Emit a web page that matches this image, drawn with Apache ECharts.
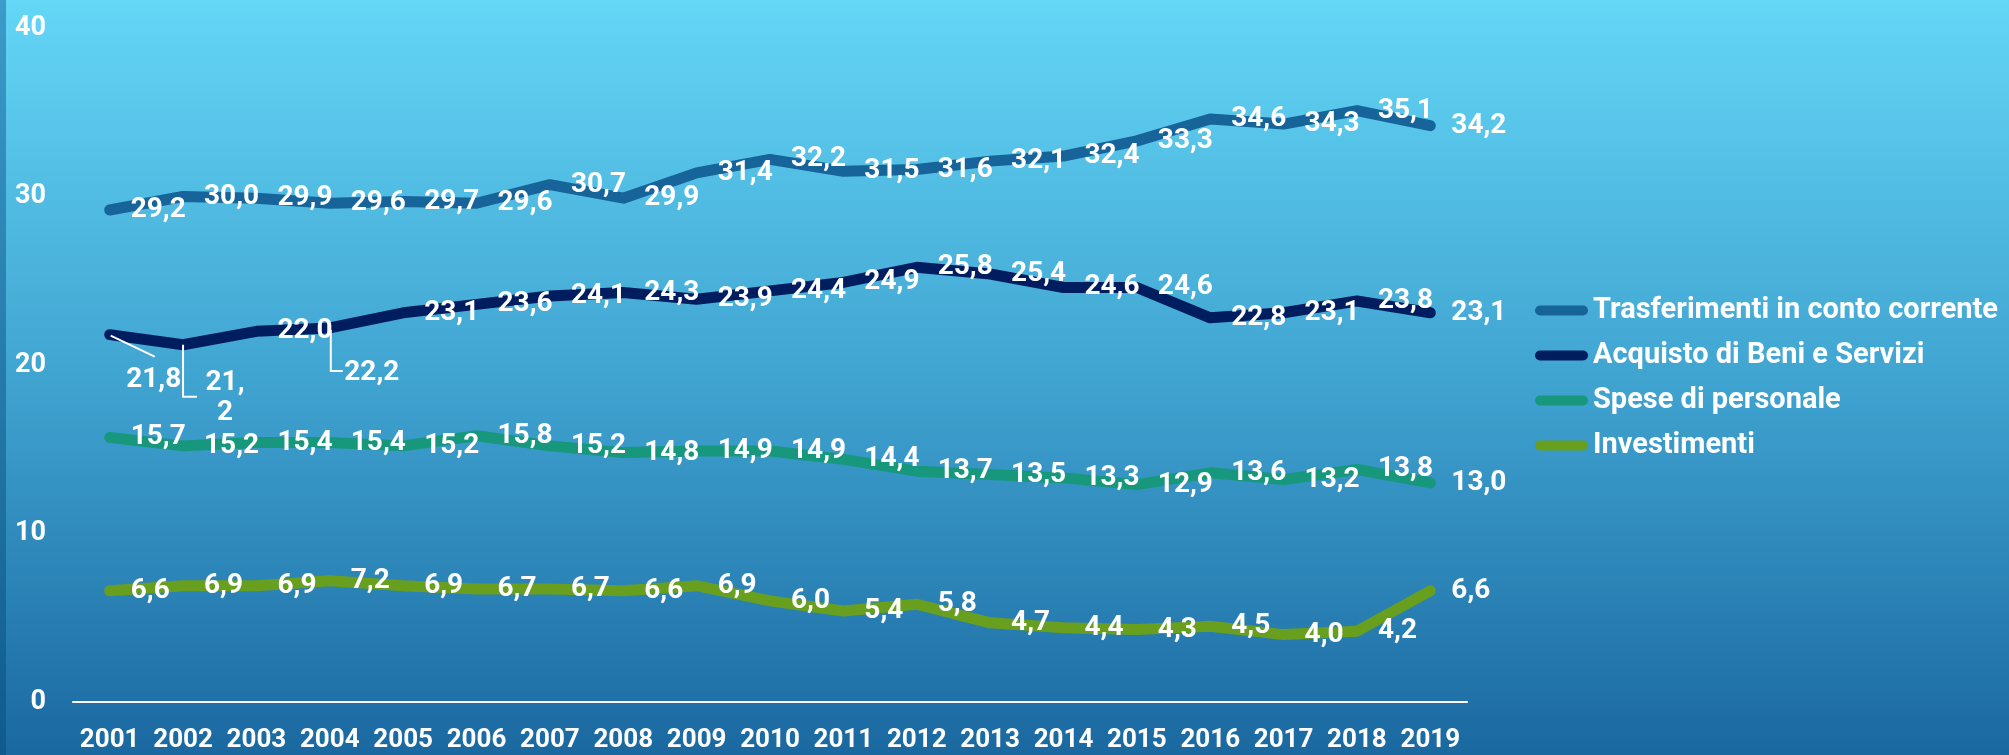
<!DOCTYPE html>
<html>
<head>
<meta charset="utf-8">
<script src="https://cdn.jsdelivr.net/npm/echarts@6/dist/echarts.min.js"></script>
<style>
html,body{margin:0;padding:0;width:2009px;height:755px;overflow:hidden;}
#chart{width:2009px;height:755px;}
</style>
</head>
<body>
<div id="chart"></div>
<script>
const years = ['2001','2002','2003','2004','2005','2006','2007','2008','2009','2010','2011','2012','2013','2014','2015','2016','2017','2018','2019'];
const seriesNames = ['Trasferimenti in conto corrente','Acquisto di Beni e Servizi','Spese di personale','Investimenti'];
const trasferimenti = [29.2,30.0,29.9,29.6,29.7,29.6,30.7,29.9,31.4,32.2,31.5,31.6,32.1,32.4,33.3,34.6,34.3,35.1,34.2];
const acquisto = [21.8,21.2,22.0,22.2,23.1,23.6,24.1,24.3,23.9,24.4,24.9,25.8,25.4,24.6,24.6,22.8,23.1,23.8,23.1];
const spese = [15.7,15.2,15.4,15.4,15.2,15.8,15.2,14.8,14.9,14.9,14.4,13.7,13.5,13.3,12.9,13.6,13.2,13.8,13.0];
const investimenti = [6.6,6.9,6.9,7.2,6.9,6.7,6.7,6.6,6.9,6.0,5.4,5.8,4.7,4.4,4.3,4.5,4.0,4.2,6.6];
const yTicks = [0,10,20,30,40];

const colors = ['#16649A','#001E5F','#17987D','#689F1E'];
const FONT = 'Roboto';

// label placement overrides (style) for crowded points of series 1
const specialLabels = {
  0: {pos:[45,46], leader:[[1,1],[45,22]]},
  1: {pos:[43,54], leader:[[0,0],[0,52],[14,52]]},
  3: {pos:[43,46], leader:[[1,2],[1,43],[13,43]]}
};

function fmt(p){
  const s = Number(p.value).toFixed(1).replace('.', ',');
  if (p.seriesIndex === 1 && p.dataIndex === 1) return s.replace(',', ',\n');
  return s;
}

function buildData(values, si){
  return values.map((v, i) => {
    if (si === 1 && specialLabels[i]) {
      return {value: v, label: {position: specialLabels[i].pos, align: 'center', verticalAlign: 'middle'}};
    }
    return v;
  });
}

const allValues = [trasferimenti, acquisto, spese, investimenti];

const chart = echarts.init(document.getElementById('chart'), null, {renderer:'canvas'});
const option = {
  backgroundColor: new echarts.graphic.LinearGradient(0,0,0,1,[
    {offset:0,color:'#64D6F6'},
    {offset:0.5,color:'#40A4D1'},
    {offset:1,color:'#1A68A0'}
  ]),
  animation:false,
  textStyle:{fontFamily:FONT},
  grid:{left:73,right:542,top:28,bottom:53,containLabel:false},
  legend:{
    orient:'vertical',
    left:1530,
    top:291,
    itemGap:16,
    itemWidth:53,
    itemHeight:11,
    icon:'path://M5,0H48A5,5,0,0,1,48,10H5A5,5,0,0,1,5,0Z',
    textStyle:{color:'#fff',fontSize:29,fontWeight:'bold',fontFamily:FONT},
    data: seriesNames
  },
  xAxis:{
    type:'category',
    data:years,
    boundaryGap:true,
    axisLine:{show:true,lineStyle:{color:'#fff',width:2}},
    axisTick:{show:false},
    axisLabel:{color:'#fff',fontSize:26,fontWeight:'bold',margin:25,interval:0,fontFamily:FONT},
    splitLine:{show:false}
  },
  yAxis:{
    type:'value',
    min:yTicks[0],
    max:yTicks[yTicks.length-1],
    interval:yTicks[1]-yTicks[0],
    axisLine:{show:false},
    axisTick:{show:false},
    splitLine:{show:false},
    axisLabel:{color:'#fff',fontSize:27,fontWeight:'bold',margin:27,fontFamily:FONT}
  },
  series: allValues.map((vals, si) => ({
    name: seriesNames[si],
    type:'line',
    data: buildData(vals, si),
    symbol:'circle',
    symbolSize:2,
    showSymbol:true,
    itemStyle:{color:colors[si]},
    lineStyle:{color:colors[si],width:11,cap:'round',join:'round'},
    label:{
      show:true,
      position:'right',
      distance:20,
      color:'#fff',
      fontSize:28,
      fontWeight:'bold',
      fontFamily:FONT,
      lineHeight:30,
      formatter: fmt
    },
    z: 2 + si
  })),
  graphic: []
};
chart.setOption(option);

// leader lines for relocated labels, anchored to data points through the axes
const leaders = Object.keys(specialLabels).map(k => {
  const i = Number(k);
  const pt = chart.convertToPixel({seriesIndex:1}, [i, acquisto[i]]);
  const pts = specialLabels[k].leader.map(o => [pt[0]+o[0], pt[1]+o[1]]);
  return {type:'polyline', shape:{points:pts}, style:{stroke:'#fff',lineWidth:2,fill:null}, z:10, silent:true};
});
leaders.push({type:'rect', left:0, top:0, shape:{width:6,height:755},
  style:{fill:new echarts.graphic.LinearGradient(0,0,0,1,[{offset:0,color:'#3A9CC8'},{offset:1,color:'#0E5A8E'}])}, z:-1, silent:true});
chart.setOption({graphic: leaders});
</script>
</body>
</html>
